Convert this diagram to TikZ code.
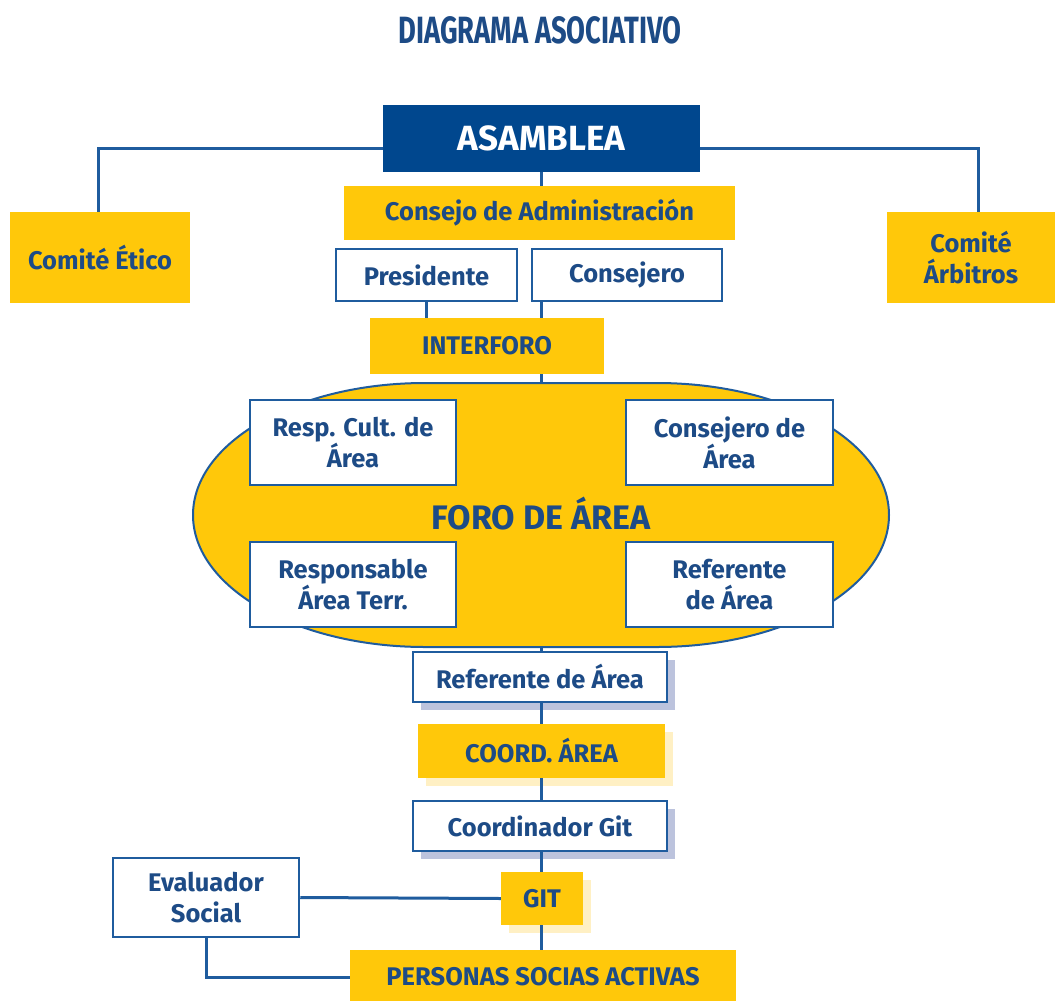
\documentclass[tikz,border=0pt]{standalone}
\usepackage{fontspec}
\setmainfont{Fira Sans}
\newfontfamily\titlefont[FakeStretch=0.72]{Fira Sans}
\usepackage{tikz}
\usetikzlibrary{shadows}
\definecolor{azulfuerte}{HTML}{00478E}
\definecolor{azullinea}{HTML}{1F5C9E}
\definecolor{azultexto}{HTML}{1D4B86}
\definecolor{amarillo}{HTML}{FFC80A}
\definecolor{sombraazul}{HTML}{BCC3DD}
\definecolor{sombraamarilla}{HTML}{FFF0C4}
\tikzstyle{linea} = [line width=3pt, draw=azullinea]

\begin{document}
\begin{tikzpicture}[x=1pt, y=-1pt,
every node/.style={inner sep=0pt, align=center, text=azultexto,
	font=\bfseries\fontsize{25.5}{31}\selectfont},
amarilla/.style={fill=amarillo},
blanca/.style={fill=white, draw=azullinea, line width=2.5pt},
sombraA/.style={drop shadow={shadow xshift=8pt, shadow yshift=-8pt, fill=sombraazul, opacity=1}},
sombraB/.style={drop shadow={shadow xshift=8pt, shadow yshift=-8pt, fill=sombraamarilla, opacity=1}}
]
\useasboundingbox (0,0) rectangle (1055,1001);

\node (titulo) at (540,30) {\titlefont\fontsize{38}{40}\selectfont DIAGRAMA ASOCIATIVO};

\node[fill=azulfuerte, text=white, minimum width=317, minimum height=67,
	font=\bfseries\fontsize{35}{40}\selectfont] (asamblea) at (541.5,138.5) {ASAMBLEA};
\node[amarilla, minimum width=391, minimum height=54] (consejo) at (539.5,213) {Consejo de Administración};
\node[blanca, minimum width=181, minimum height=52] (presidente) at (426.5,275) {Presidente};
\node[blanca, minimum width=190, minimum height=52] (consejero) at (627,275) {Consejero};
\node[amarilla, minimum width=234, minimum height=56] (interforo) at (487,346) {INTERFORO};
\node[amarilla, minimum width=180, minimum height=91] (etico) at (100,257.5) {Comité Ético};
\node[amarilla, minimum width=168, minimum height=91] (arbitros) at (971,257.5) {Comité\\Árbitros};

% foro de area
\fill[amarillo, draw=azullinea, line width=2pt] (425,383) -- (657,383)
	arc[start angle=-90, end angle=90, x radius=232, y radius=132] -- (425,647)
	arc[start angle=90, end angle=270, x radius=232, y radius=132] -- cycle;
\coordinate (forotop) at (541,383);
\coordinate (forobot) at (541,647);
\node[font=\bfseries\fontsize{34}{38}\selectfont] (foro) at (541,514) {FORO DE ÁREA};
\node[blanca, minimum width=206, minimum height=85] (respcult) at (353,442.5) {Resp. Cult. de\\Área};
\node[blanca, minimum width=207, minimum height=85] (consarea) at (729.5,442.5) {Consejero de\\Área};
\node[blanca, minimum width=206, minimum height=85] (respterr) at (353,584.5) {Responsable\\Área Terr.};
\node[blanca, minimum width=207, minimum height=85] (refarea) at (729.5,584.5) {Referente\\de Área};

\node[blanca, sombraA, minimum width=254, minimum height=50] (referente) at (540,677) {Referente de Área};
\node[amarilla, sombraB, minimum width=247, minimum height=54] (coord) at (541.5,751) {COORD. ÁREA};
\node[blanca, sombraA, minimum width=254, minimum height=50] (coordgit) at (540,826) {Coordinador Git};
\node[amarilla, sombraB, minimum width=82, minimum height=53] (git) at (542,898.5) {GIT};
\node[blanca, minimum width=186, minimum height=79] (evaluador) at (206,897.5) {Evaluador\\Social};
\node[amarilla, minimum width=386, minimum height=54] (personas) at (543,977) {PERSONAS SOCIAS ACTIVAS};

% conectores
\draw[linea] ([yshift=-10pt]asamblea.west) -| ([xshift=-2pt]etico.north);
\draw[linea] ([yshift=-10pt]asamblea.east) -| ([xshift=7pt]arbitros.north);
\draw[linea] (asamblea.south) -- (asamblea.south |- consejo.north);
\draw[linea] (presidente.south) -- (presidente.south |- interforo.north);
\draw[linea] (consejero.south -| forotop) -- (interforo.north -| forotop);
\draw[linea] (interforo.south -| forotop) -- (forotop);
\draw[linea] (forobot) -- (referente.north -| forobot);
\draw[linea] (referente.south -| forobot) -- (coord.north -| forobot);
\draw[linea] (coord.south -| forobot) -- (coordgit.north -| forobot);
\draw[linea] (coordgit.south -| forobot) -- (git.north -| forobot);
\draw[linea] (git.south -| forobot) -- (personas.north -| forobot);
\draw[linea] (evaluador.east) -- (git.west);
\draw[linea] (evaluador.south) |- (personas.west);
\end{tikzpicture}
\end{document}
